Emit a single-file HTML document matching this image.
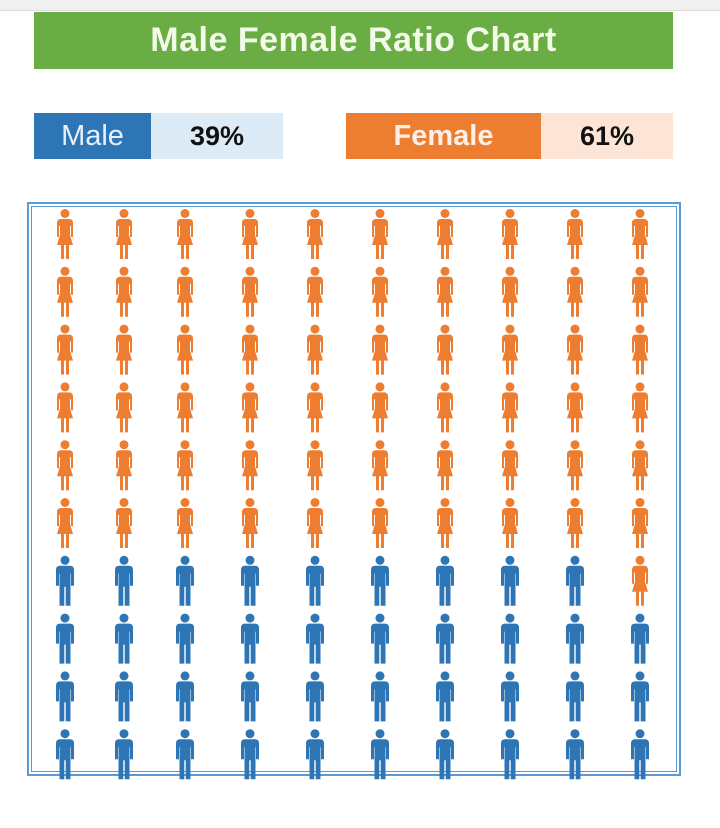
<!DOCTYPE html>
<html><head><style>
body{margin:0;width:720px;height:828px;background:#fff;position:relative;overflow:hidden;font-family:"Liberation Sans",sans-serif}
.top{position:absolute;left:0;top:0;width:720px;height:10px;background:#f0f0f0;border-bottom:1px solid #ddd}
.banner{position:absolute;left:34px;top:12px;width:639px;height:57px;background:#6aad45;color:#f3fbe8;font-weight:bold;font-size:34px;text-align:center;line-height:57px;letter-spacing:0.5px}
.box{position:absolute;top:113px;height:46px;font-size:27px;line-height:46px;text-align:center}
.frame{position:absolute;left:27px;top:202px;width:650px;height:570px;border:2px solid #5b9bd5;box-shadow:inset 0 0 0 2px #fff,inset 0 0 0 3px #5b9bd5}
</style></head><body>
<div class="top"></div>
<div class="banner">Male Female Ratio Chart</div>
<div class="box" style="left:34px;width:117px;background:#2e75b6;color:#e8f1fb;font-size:29px">Male</div>
<div class="box" style="left:151px;width:132px;background:#ddebf7;color:#111;font-weight:bold">39%</div>
<div class="box" style="left:346px;width:195px;background:#ed7d31;color:#fdf0e6;font-weight:bold;font-size:29px">Female</div>
<div class="box" style="left:541px;width:132px;background:#fce4d6;color:#111;font-weight:bold">61%</div>
<div class="frame"></div>
<svg style="position:absolute;left:0;top:0" width="720" height="828">
<defs>
<g id="m" fill="#2e75b6">
<circle cx="0" cy="4.5" r="4.5"/>
<path d="M-9,14 Q-9,10 -5,10 L5,10 Q9,10 9,14 L9,30 L6,30 L6,18 L5.5,18 L5.5,50 L0.7,50 L0.7,31 L-0.7,31 L-0.7,50 L-5.5,50 L-5.5,18 L-6,18 L-6,30 L-9,30 Z"/>
</g>
<g id="f" fill="#ed7d31">
<circle cx="0" cy="4.5" r="4.5"/>
<path d="M-8,14 Q-8,10 -4,10 L4,10 Q8,10 8,14 L8,28 L6,28 L6,17 L5,17 L5,26 L8,36 L4,36 L4,50 L1,50 L1,36 L-1,36 L-1,50 L-4,50 L-4,36 L-8,36 L-5,26 L-5,17 L-6,17 L-6,28 L-8,28 Z"/>
</g>
</defs>
<g id="grid"></g>
</svg>
<script>
var g=document.getElementById('grid'),s='';
var xs=[65,124,185,250,315,380,445,510,575,640];
for(var r=0;r<10;r++)for(var c=0;c<10;c++){
 var fem = r<6 || (r==6&&c==9);
 s+='<use href="#'+(fem?'f':'m')+'" x="'+xs[c]+'" y="'+(209+r*57.8)+'"/>';
}
g.innerHTML=s;
</script>
</body></html>
